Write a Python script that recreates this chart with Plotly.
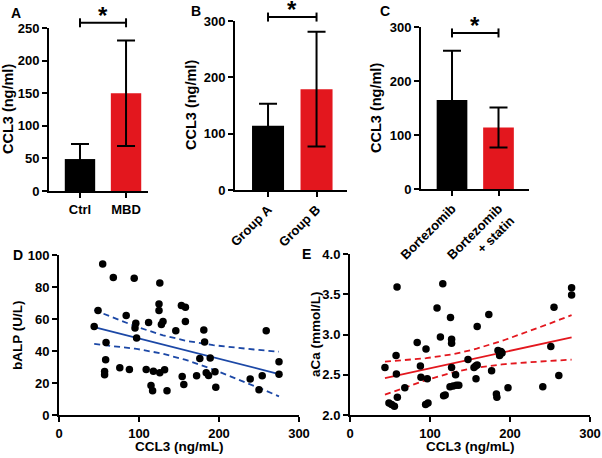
import numpy as np
import plotly.graph_objects as go

W, H = 602, 458
FONT = "Liberation Sans, Arial, sans-serif"
BLACK = "#000000"
RED = "#e3171e"
BLUE = "#1c48a6"

# ---------------- data ----------------
a_cats = ["Ctrl", "MBD"]
a_vals = [49, 150]
a_err = [23, 81]
a_sig_h = 258

b_cats = ["Group A", "Group B"]
b_vals = [114, 179]
b_err = [39, 102]
b_sig_h = 307

c_cats = ["Bortezomib", "Bortezomib<br>+ statin"]
c_vals = [165, 114]
c_err = [91, 37]
c_sig_h = 289

d_x = [44, 54.6, 48.8, 67.9, 58.8, 58.3, 57, 57, 76, 84, 88, 94, 96, 95, 97, 109, 112,
       115, 117, 118, 126, 125, 125, 128, 130, 126, 132, 135, 146, 153, 158, 158, 154,
       156, 172, 176, 181, 182, 184, 187, 189, 195, 196, 239, 250, 254, 259, 275, 275]
d_y = [55.3, 94.4, 65.3, 85.9, 45.3, 34.5, 27.2, 25.2, 29.5, 62.2, 28.5, 85.4, 57.4,
       54.3, 48.2, 28.5, 57.8, 18.5, 15.2, 27.4, 82.5, 69.4, 65.3, 56.5, 58.4, 26.4,
       28.3, 15.2, 52.6, 68.4, 67.4, 58.4, 24.1, 19.1, 24.5, 35.3, 53.2, 45.7, 26.4,
       24.7, 35.6, 27, 17.3, 22.5, 15.8, 24.5, 52.6, 33.3, 25.4]

e_x = [43.7, 48.7, 52, 55.5, 57.6, 58, 58.8, 59.2, 68.5, 84, 88, 88.7, 95, 94.5, 97.5,
       96.6, 108.8, 113, 116, 117, 119, 125.6, 127, 127, 127, 125, 129, 132, 133, 136,
       147.5, 155, 157, 159, 159, 157.5, 173.5, 177, 183, 183.6, 185, 187, 188.7, 190,
       197.5, 241, 251, 255, 261, 277, 277]
e_y = [2.59, 2.15, 2.13, 2.11, 2.74, 2.51, 3.59, 2.22, 2.34, 2.90, 2.61, 2.47, 2.82,
       2.13, 2.15, 2.45, 3.33, 2.97, 3.63, 2.24, 2.25, 3.21, 2.94, 2.89, 2.59, 2.35,
       2.36, 2.50, 2.37, 2.37, 2.69, 2.59, 2.61, 2.62, 3.10, 2.45, 3.25, 2.55, 2.26,
       2.22, 2.80, 2.74, 2.79, 2.77, 2.34, 2.35, 2.85, 3.34, 2.49, 3.58, 3.49]

# ---------------- layout geometry (pixels) ----------------
def px_x(p):
    return p / W

def px_y(p):
    return 1 - p / H

panels = {
    "A": dict(x=(49, 148), y=(191, 28)),
    "B": dict(x=(235, 347), y=(190, 21)),
    "C": dict(x=(421, 529), y=(189, 27)),
    "D": dict(x=(59, 299), y=(415, 255)),
    "E": dict(x=(350, 590), y=(415, 254)),
}


def bold(s):
    return "<br>".join("<b>" + part + "</b>" for part in s.split("<br>"))


fig = go.Figure()

axis_common = dict(
    showline=True, linecolor=BLACK, linewidth=2, ticks="outside", ticklen=5,
    tickwidth=2, tickcolor=BLACK, showgrid=False, zeroline=False, automargin=False,
    tickfont=dict(family=FONT, size=13, color=BLACK, weight="bold"),
    fixedrange=True,
)

bar_sets = [
    ("A", "x", "y", a_cats, a_vals, a_err, a_sig_h, 250, 50, (-0.673, 1.477), 0),
    ("B", "x2", "y2", b_cats, b_vals, b_err, b_sig_h, 300, 100, (-0.681, 1.628), 45),
    ("C", "x3", "y3", c_cats, c_vals, c_err, c_sig_h, 300, 100, (-0.667, 1.656), 45),
]

annotations = []
shapes = []

for name, xa, ya, cats, vals, errs, sig_h, ymax, dtick, xr, angle in bar_sets:
    fig.add_trace(go.Bar(
        x=cats, y=vals, xaxis=xa, yaxis=ya, width=0.66,
        marker=dict(color=[BLACK, RED], line=dict(width=0)),
        error_y=dict(type="data", array=errs, visible=True, color=BLACK,
                     thickness=2, width=9),
        showlegend=False, hoverinfo="skip",
    ))
    p = panels[name]
    xkey = "xaxis" if xa == "x" else "xaxis" + xa[1:]
    ykey = "yaxis" if ya == "y" else "yaxis" + ya[1:]
    fig.layout[xkey] = dict(axis_common, domain=[px_x(p["x"][0]), px_x(p["x"][1])],
                            anchor=ya, type="category", range=list(xr),
                            tickmode="array", tickvals=cats,
                            ticktext=[bold(c) for c in cats],
                            tickangle=-angle if angle else 0)
    fig.layout[ykey] = dict(axis_common, domain=[px_y(p["y"][0]), px_y(p["y"][1])],
                            anchor=xa, range=[0, ymax], dtick=dtick,
                            tickprefix="<b>", ticksuffix="</b>")
    # significance bracket
    hpx = p["y"][0] - p["y"][1]
    yd = sig_h / ymax
    cap = 4.5 / hpx
    ydom = ya + " domain"
    shapes.append(dict(type="line", xref=xa, yref=ydom, x0=0, x1=1, y0=yd, y1=yd,
                       line=dict(color=BLACK, width=2)))
    for xc in (0, 1):
        shapes.append(dict(type="line", xref=xa, yref=ydom, x0=xc, x1=xc,
                           y0=yd - cap, y1=yd + cap, line=dict(color=BLACK, width=2)))
    annotations.append(dict(text="<b>*</b>", xref=xa, yref=ydom, x=0.5, y=yd,
                            yanchor="bottom", xanchor="center", showarrow=False,
                            yshift=-8, font=dict(family=FONT, size=24, color=BLACK)))


def fit_with_ci(xs, ys):
    xs = np.asarray(xs, float)
    ys = np.asarray(ys, float)
    n = len(xs)
    b, a = np.polyfit(xs, ys, 1)
    res = ys - (a + b * xs)
    s = np.sqrt(np.sum(res ** 2) / (n - 2))
    xm = xs.mean()
    sxx = np.sum((xs - xm) ** 2)
    gx = np.linspace(xs.min(), xs.max(), 60)
    gy = a + b * gx
    se = s * np.sqrt(1.0 / n + (gx - xm) ** 2 / sxx)
    t = 2.01
    return gx, gy, gy - t * se, gy + t * se


scatter_sets = [
    ("D", "x4", "y4", d_x, d_y, BLUE, (0, 100), 20, "bALP (U/L)"),
    ("E", "x5", "y5", e_x, e_y, RED, (2.0, 4.0), 0.5, "aCa (mmol/L)"),
]

for name, xa, ya, xs, ys, col, yr, dt, ytitle in scatter_sets:
    gx, gy, lo, hi = fit_with_ci(xs, ys)
    for yy, dash in ((lo, "6px,4px"), (hi, "6px,4px"), (gy, "solid")):
        fig.add_trace(go.Scatter(x=gx, y=yy, xaxis=xa, yaxis=ya, mode="lines",
                                 line=dict(color=col, width=1.8, dash=dash),
                                 showlegend=False, hoverinfo="skip"))
    fig.add_trace(go.Scatter(x=xs, y=ys, xaxis=xa, yaxis=ya, mode="markers",
                             marker=dict(color=BLACK, size=7.5),
                             showlegend=False, hoverinfo="skip", cliponaxis=False))
    p = panels[name]
    fig.layout["xaxis" + xa[1:]] = dict(axis_common, domain=[px_x(p["x"][0]), px_x(p["x"][1])],
                                        anchor=ya, range=[0, 300], dtick=100,
                                        tickprefix="<b>", ticksuffix="</b>")
    ydict = dict(axis_common, domain=[px_y(p["y"][0]), px_y(p["y"][1])],
                 anchor=xa, range=list(yr), dtick=dt,
                 tickprefix="<b>", ticksuffix="</b>")
    if name == "E":
        ydict["tickformat"] = ".1f"
    fig.layout["yaxis" + ya[1:]] = ydict

# axis titles
title_font = dict(family=FONT, size=14.5, color=BLACK, weight="bold")
title_font2 = dict(family=FONT, size=13.5, color=BLACK, weight="bold")
for xc, yc, txt, f in [(8, 109, "CCL3 (ng/ml)", title_font),
                       (191, 105, "CCL3 (ng/ml)", title_font),
                       (376, 108, "CCL3 (ng/ml)", title_font),
                       (17, 335, "bALP (U/L)", title_font2),
                       (315, 334, "aCa (mmol/L)", title_font2)]:
    annotations.append(dict(text=bold(txt), xref="paper", yref="paper", x=px_x(xc), y=px_y(yc),
                            textangle=-90, showarrow=False, xanchor="center",
                            yanchor="middle", font=f))
for xc in (179, 470):
    annotations.append(dict(text=bold("CCL3 (ng/mL)"), xref="paper", yref="paper", x=px_x(xc),
                            y=px_y(446), showarrow=False, xanchor="center",
                            yanchor="middle", font=title_font2))

# panel letters
for xc, yc, letter in [(16, 12.5, "A"), (196, 11, "B"), (385, 11, "C"),
                       (17.5, 255, "D"), (306, 254, "E")]:
    annotations.append(dict(text=bold(letter), xref="paper", yref="paper", x=px_x(xc),
                            y=px_y(yc), showarrow=False, xanchor="center",
                            yanchor="middle",
                            font=dict(family=FONT, size=14, color=BLACK, weight="bold")))

fig.update_layout(
    width=W, height=H, margin=dict(l=0, r=0, t=0, b=0),
    paper_bgcolor="white", plot_bgcolor="white",
    annotations=annotations, shapes=shapes, bargap=0.3,
    font=dict(family=FONT, color=BLACK),
)

fig.write_html("out.html", config={"displayModeBar": False})
